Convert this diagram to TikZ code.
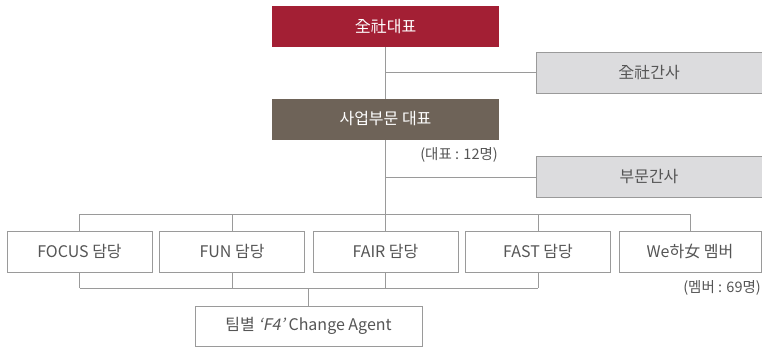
\documentclass[tikz,border=0pt]{standalone}
\usepackage{fontspec}
\setmainfont{Noto Sans CJK KR}
\newfontfamily\slantfont{Noto Sans CJK KR}[FakeSlant=0.2]
\definecolor{chiefred}{HTML}{A31F34}
\definecolor{divbrown}{HTML}{6E6358}
\definecolor{staffgrey}{HTML}{DCDCDE}
\definecolor{linegrey}{HTML}{9A9A9A}
\definecolor{textgrey}{HTML}{555555}
\begin{document}
\begin{tikzpicture}
        [x=1pt, y=-1pt,
         font=\fontsize{16}{19}\selectfont,
         head_style/.style={rectangle,minimum width=227pt,minimum height=41pt,inner sep=0pt,text=white},
         staff_style/.style={rectangle,draw=linegrey,fill=staffgrey,minimum width=226pt,minimum height=41pt,inner sep=0pt,text=textgrey},
         team_style/.style={rectangle,draw=linegrey,fill=white,minimum width=145pt,minimum height=41pt,inner sep=0pt,text=textgrey},
         note_style/.style={inner sep=0pt,text=textgrey,font=\fontsize{14.5}{17}\selectfont},
         edge_style/.style={draw=linegrey,line width=0.9pt}]
            \useasboundingbox (0,0) rectangle (762,348);
            % junctions on the main line
            \coordinate (j1) at (385.5,72.5);
            \coordinate (j2) at (385.5,177);
            \coordinate (bus1) at (79.5,214);
            \coordinate (bus5) at (690,214);
            \coordinate (low1) at (79.5,288);
            \coordinate (low4) at (538,288);
            % connectors
            \draw[edge_style] (385.5,26.5) -- (385.5,214);
            \draw[edge_style] (bus1) -- (bus5);
            \draw[edge_style] (low1) -- (low4);
            % boxes
            \node[head_style,fill=chiefred] (chief) at (385.5,26.5) {全社대표};
            \node[staff_style] (staff1) at (649,72.5) {全社간사};
            \node[head_style,fill=divbrown] (div) at (385.5,119) {사업부문 대표};
            \node[note_style,anchor=east] (note1) at (498,155) {(대표 : 12명)};
            \node[staff_style] (staff2) at (649,177) {부문간사};
            \node[team_style] (focus) at (79.5,251.5) {FOCUS 담당};
            \node[team_style] (fun) at (232,251.5) {FUN 담당};
            \node[team_style] (fair) at (385.5,251.5) {FAIR 담당};
            \node[team_style] (fast) at (538,251.5) {FAST 담당};
            \node[team_style,minimum width=142pt] (we) at (690,251.5) {We하女 멤버};
            \node[note_style,anchor=east] (note2) at (761,288) {(멤버 : 69명)};
            \node[team_style,minimum width=227pt,minimum height=40pt] (agent) at (308.5,326) {팀별 {\slantfont‘F4’} Change Agent};
            \draw[edge_style] (j1) -- (staff1.west);
            \draw[edge_style] (j2) -- (staff2.west);
            \draw[edge_style] (focus.north) -- (focus.north |- bus1);
            \draw[edge_style] (fun.north) -- (fun.north |- bus1);
            \draw[edge_style] (fair.north) -- (fair.north |- bus1);
            \draw[edge_style] (fast.north) -- (fast.north |- bus1);
            \draw[edge_style] (we.north) -- (we.north |- bus5);
            \draw[edge_style] (focus.south) -- (focus.south |- low1);
            \draw[edge_style] (fun.south) -- (fun.south |- low1);
            \draw[edge_style] (fair.south) -- (fair.south |- low1);
            \draw[edge_style] (fast.south) -- (fast.south |- low4);
            \draw[edge_style] (agent.north) -- (agent.north |- low1);
        \end{tikzpicture}
\end{document}
